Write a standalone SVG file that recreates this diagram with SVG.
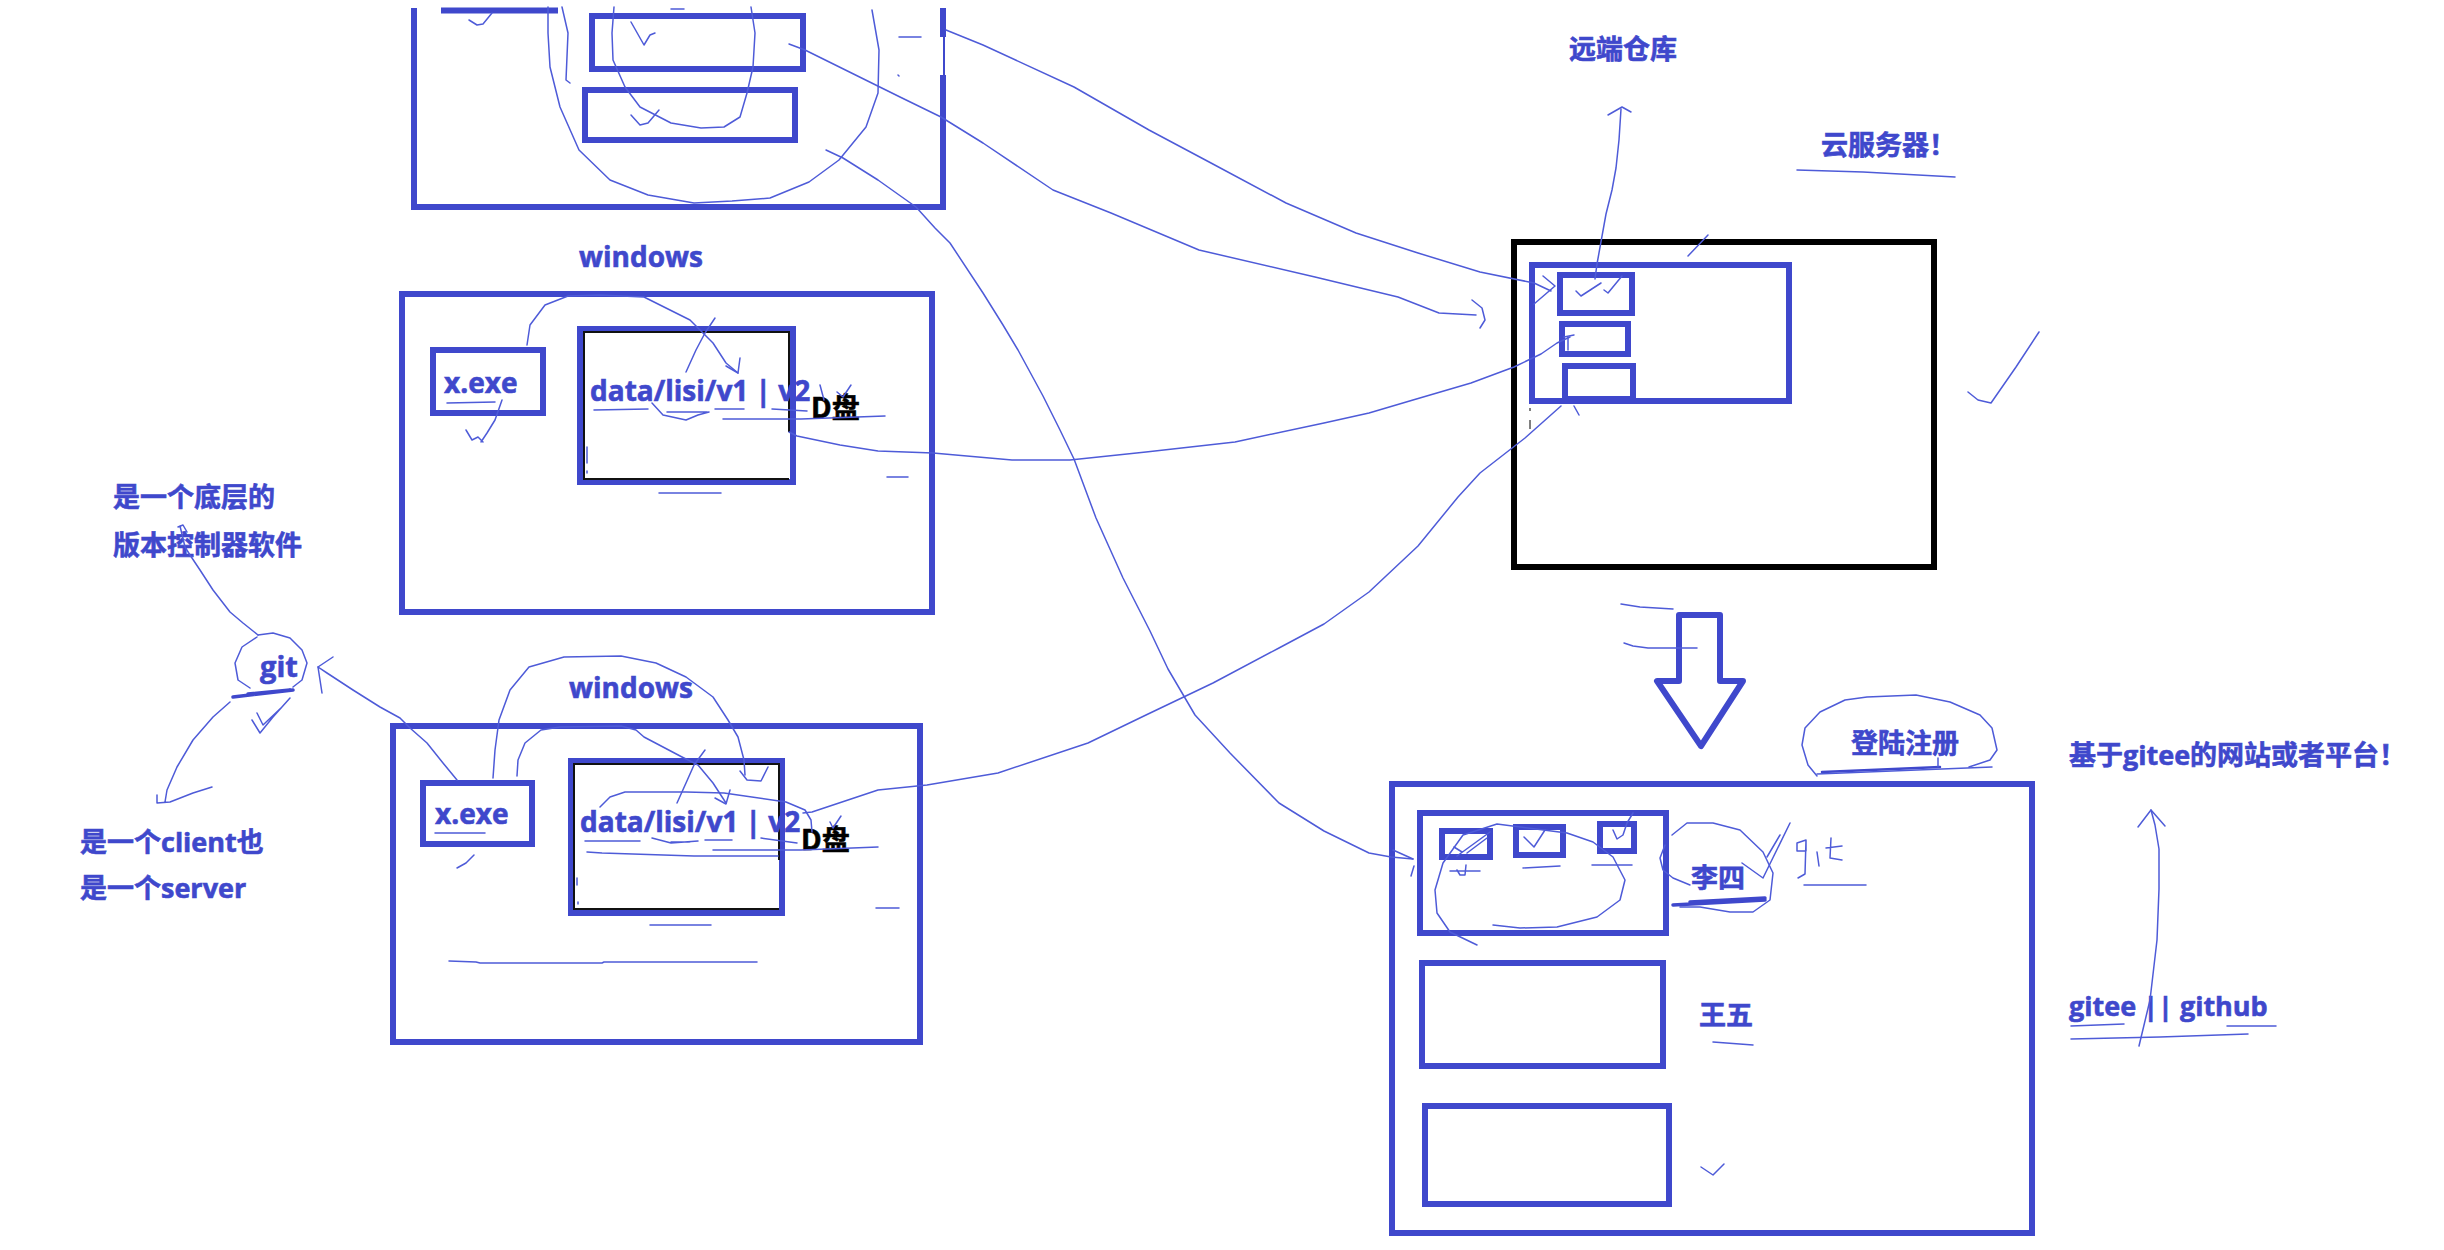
<svg xmlns="http://www.w3.org/2000/svg" width="2444" height="1250" viewBox="0 0 2444 1250">
<style>
.box{fill:none;stroke:#3F48CC;stroke-width:6}
.bk{fill:none;stroke:#000;stroke-width:6}
.thin{fill:none;stroke:#111;stroke-width:2}
.ink{fill:none;stroke:#4E5BD8;stroke-width:1.5;stroke-linecap:round;stroke-linejoin:round}
.inkb{fill:none;stroke:#3F48CC;stroke-width:3.5;stroke-linecap:round;stroke-linejoin:round}
.t{font-family:"Open Sans","Noto Sans CJK SC",sans-serif;font-weight:700;font-size:27px;fill:#3F48CC;stroke:#3F48CC;stroke-width:0.6}
.t28{font-size:28px}
.d{fill:#000;stroke:#000}
</style>
<rect width="2444" height="1250" fill="#fff"/>

<g id="top-box">
<path class="box" d="M414,8 V207 H943 V75"/>
<path class="box" d="M943,8 V37"/>
<path d="M944,37 V75" stroke="#3F48CC" stroke-width="2"/>
<path class="box" d="M441,10.5 H558"/>
<rect class="box" x="592" y="16" width="211" height="53"/>
<rect class="box" x="585" y="90" width="210" height="50"/>
</g>

<g id="windows-1">
<text class="t t28" x="579" y="267">windows</text>
<rect class="box" x="402" y="294" width="530" height="318"/>
<g id="windows-1-exe">
<rect class="box" x="433" y="350" width="110" height="63"/>
<text class="t t28" x="444" y="393">x.exe</text>
</g>
<g id="windows-1-data">
<rect class="box" x="580" y="329" width="213" height="153"/>
<path class="thin" d="M789,432 V332 H584 V479 H789"/>
<text class="t t28" x="590" y="401">data/lisi/v1 | v2</text>
<text class="t t28 d" x="811" y="418">D盘</text>
</g>
</g>

<g id="windows-2">
<text class="t t28" x="569" y="698">windows</text>
<rect class="box" x="393" y="726" width="527" height="316"/>
<g id="windows-2-exe">
<rect class="box" x="423" y="783" width="109" height="61"/>
<text class="t t28" x="435" y="824">x.exe</text>
</g>
<g id="windows-2-data">
<rect class="box" x="571" y="761" width="211" height="152"/>
<path class="thin" d="M779,860 V764 H574 V909 H779"/>
<text class="t t28" x="580" y="832">data/lisi/v1 | v2</text>
<text class="t t28 d" x="801" y="850">D盘</text>
</g>
</g>

<g id="git">
<text class="t" x="113" y="507">是一个底层的</text>
<text class="t" x="113" y="555">版本控制器软件</text>
<text class="t" x="260" y="677" style="font-size:29px">git</text>
<text class="t" x="80" y="852">是一个client也</text>
<text class="t" x="80" y="898">是一个server</text>
</g>

<g id="cloud-server">
<text class="t" x="1569" y="59">远端仓库</text>
<text class="t" x="1821" y="155">云服务器！</text>
<rect class="bk" x="1514" y="242" width="420" height="325"/>
<rect class="box" x="1532" y="265" width="257" height="136"/>
<rect class="box" x="1560" y="275" width="72" height="38"/>
<rect class="box" x="1562" y="324" width="66" height="30"/>
<rect class="box" x="1565" y="366" width="68" height="33"/>
</g>

<g id="down-arrow">
<path class="box" stroke-linejoin="round" d="M1679,615 H1720 V681 H1743 L1701,746 L1657,681 H1679 Z"/>
</g>

<g id="gitee-site">
<text class="t" x="1851" y="753">登陆注册</text>
<rect class="box" x="1392" y="784" width="640" height="449"/>
<rect class="box" x="1420" y="813" width="246" height="120"/>
<rect class="box" x="1442" y="831" width="48" height="26"/>
<rect class="box" x="1516" y="827" width="47" height="28"/>
<rect class="box" x="1600" y="824" width="34" height="27"/>
<text class="t" x="1691" y="888">李四</text>
<rect class="box" x="1422" y="963" width="241" height="103"/>
<text class="t" x="1699" y="1025">王五</text>
<rect class="box" x="1425" y="1106" width="244" height="98"/>
</g>

<g id="platform">
<text class="t" x="2069" y="765">基于gitee的网站或者平台！</text>
<text class="t" x="2069" y="1016">gitee || github</text>
</g>

<g id="connectors">
<path class="ink" d="M946,30 L983,45 L1074,87 L1149,130 L1211,163 L1286,203 L1356,233 L1418,253 L1480,272 L1534,283 L1551,291"/>
<path class="ink" d="M1543,276 L1555,286 L1534,304"/>
<path class="ink" d="M789,44 L805,50 L900,97 L941,117 L983,143 L1053,190 L1111,213 L1199,250 L1315,277 L1398,297 L1439,313 L1476,315"/>
<path class="ink" d="M1472,300 L1482,308 L1485,320 L1480,328"/>
<path class="ink" d="M826,150 L843,158 L878,180 L916,207 L935,228 L950,243 L983,293 L1003,325 L1018,350 L1043,396 L1060,430 L1074,459 L1096,518 L1123,578 L1150,631 L1168,669 L1195,715 L1230,753 L1279,803 L1324,831 L1369,853 L1391,857 L1413,859"/>
<path class="ink" d="M1393,850 L1413,859 M1411,876 L1414,866"/>
<path class="ink" d="M789,432 L797,436 L840,445 L878,451 L933,453 L1012,460 L1070,460 L1146,452 L1235,442 L1324,423 L1369,413 L1413,400 L1471,383 L1514,367 L1541,354 L1557,343 L1570,337"/>
<path class="ink" d="M1564,337 L1574,335 M1568,337 L1568,350"/>
<path class="ink" d="M803,813 L812,812 L878,790 L927,785 L998,773 L1088,743 L1146,715 L1213,683 L1279,648 L1324,624 L1369,592 L1418,546 L1458,497 L1480,473 L1525,438 L1561,406"/>
<path class="ink" d="M1574,406 L1579,415"/>
<path class="ink" d="M457,780 L443,763 L427,743 L410,728 L400,718 L380,707 L353,690 L327,673 L318,667"/>
<path class="ink" d="M333,657 L318,667 L322,693"/>
<path class="ink" d="M1595,279 L1597,264 L1606,214 L1612,190 L1616,168 L1619,140 L1621,109"/>
<path class="ink" d="M1608,115 L1622,107 L1631,112"/>
<path class="ink" d="M2139,1046 L2150,1000 L2157,940 L2159,889 L2159,849 L2155,825 L2151,810"/>
<path class="ink" d="M2138,827 L2151,810 L2165,826"/>
</g>

<g id="annotations">
<path class="ink" d="M548,7 L548,33 L550,67 L560,107 L579,150 L610,180 L648,195 L694,203 L732,201 L770,198 L809,182 L839,160 L866,127 L878,93 L879,50 L872,10"/>
<path class="ink" d="M562,7 L568,33 L566,80 L570,83"/>
<path class="ink" d="M614,7 L612,33 L613,60 L625,87 L640,107 L671,123 L701,128 L724,127 L740,117 L747,93 L753,67 L755,33 L751,7"/>
<path class="ink" d="M631,22 L644,45 L650,35 L655,33 M631,115 L640,125 L648,123 L659,110"/>
<path class="ink" d="M671,9 L684,9 M899,37 L921,37 M898,75 L899,76"/>
<path class="ink" d="M469,20 L477,25 L483,24 L492,13"/>

<path class="ink" d="M527,345 L530,325 L545,305 L568,296 L600,295 L644,297 L660,305 L690,320 L713,343 L726,363 L738,373"/>
<path class="ink" d="M726,366 L738,373 L740,358"/>
<path class="ink" d="M686,372 L696,350 L705,333 L715,318"/>
<path class="ink" d="M447,403 L495,402"/>
<path class="ink" d="M502,400 L495,420 L487,433 L481,442 M466,430 L472,440 L478,437 L483,442"/>
<path class="ink" d="M594,410 L648,409 M652,403 L663,415 L686,420 L698,415 L709,412 M667,412 L707,412 M715,409 L744,409 M772,409 L807,411"/>
<path class="ink" d="M723,419 L801,419 L885,416"/>
<path class="ink" d="M820,385 L824,400 M837,392 L843,397 L851,385"/>
<path class="ink" d="M887,477 L908,477 M659,493 L721,493 M587,447 L587,463 M587,471 L587,473"/>

<path class="ink" d="M493,778 L495,750 L499,720 L510,690 L529,667 L564,657 L621,656 L656,663 L686,677 L713,697 L728,720 L738,737 L744,760 L745,775"/>
<path class="ink" d="M740,771 L747,780 L761,781 L768,767"/>
<path class="ink" d="M517,776 L518,760 L525,743 L541,730 L560,727 L621,726 L636,730 L644,737 L682,757 L698,765 L713,783 L726,803"/>
<path class="ink" d="M715,798 L726,804 L730,790"/>
<path class="ink" d="M677,803 L686,783 L694,765 L705,750"/>
<path class="ink" d="M435,833 L485,833 M474,855 L466,863 L457,868"/>
<path class="ink" d="M600,807 L610,797 L625,792 L686,792 L724,793 L786,802 L805,810 L811,820 L812,832 M587,852 L602,853 L694,856 L778,856"/>
<path class="ink" d="M585,841 L640,841 M652,838 L671,843 L698,841 M671,842 L690,842 M705,840 L732,840 M761,838 L797,843"/>
<path class="ink" d="M713,850 L801,850 L878,847"/>
<path class="ink" d="M830,822 L833,828 L841,816"/>
<path class="ink" d="M876,908 L899,908 M650,925 L711,925 M449,961 L476,962 L480,963 L602,963 L604,962 L757,962 M577,878 L577,885 M578,902 L578,904"/>

<path class="ink" d="M258,635 L273,633 L290,638 L302,650 L307,663 L302,680 L293,687 M257,637 L242,647 L235,663 L238,680 L250,688"/>
<path class="inkb" d="M233,697 L293,690 M248,694 L290,690"/>
<path class="ink" d="M258,635 L243,623 L230,612 L213,590 L200,570 L190,555 L185,547 L180,526 M178,527 L183,525 L187,532"/>
<path class="ink" d="M230,702 L213,717 L193,740 L177,767 L167,790 L165,802 M157,795 L157,803 L170,802 L193,793 L212,787"/>
<path class="ink" d="M252,720 L260,733 L273,717 L290,698 M257,713 L263,725 L282,707"/>

<path class="ink" d="M1576,291 L1581,296 L1601,283 M1604,290 L1608,293 L1622,276"/>
<path class="ink" d="M1797,170 L1863,172 L1955,177"/>
<path class="ink" d="M1688,256 L1708,235"/>
<path class="ink" d="M1968,392 L1978,400 L1991,403 L2016,367 L2039,332"/>
<path d="M1530,408 V411 M1530,420 V429" stroke="#000" stroke-width="1"/>
<path class="ink" d="M1621,604 L1640,607 L1673,609 M1624,643 L1633,646 L1648,648 L1697,648"/>

<path class="ink" d="M1817,776 L1808,765 L1802,745 L1805,728 L1820,712 L1845,700 L1867,697 L1916,695 L1950,702 L1980,715 L1992,728 L1997,750 L1990,760 L1969,767"/>
<path class="inkb" d="M1822,772 L1870,770 L1940,767" style="stroke-width:2.5"/>
<path class="ink" d="M1817,774 L1992,767 M1938,758 L1938,767"/>

<path class="ink" d="M1672,835 L1687,823 L1713,823 L1740,830 L1763,852 L1773,873 L1770,900 L1753,912 L1730,912 L1700,907 L1680,907 M1665,845 L1660,858 L1663,870 L1673,878 L1690,885"/>
<path class="inkb" d="M1673,905 L1765,900 M1690,902 L1765,898"/>
<path class="ink" d="M1742,863 L1763,878 L1790,823 M1767,857 L1780,835"/>
<path class="ink" d="M1497,824 L1567,833 L1593,842 L1613,857 L1625,880 L1620,900 L1597,917 L1557,927 L1520,928 L1493,925 M1497,824 L1463,835 L1443,863 L1435,890 L1437,913 L1450,932 L1477,945"/>
<path class="ink" d="M1457,856 L1490,832 M1467,853 L1487,838 M1454,847 L1462,852"/>
<path class="ink" d="M1524,837 L1534,847 L1545,830 M1613,830 L1617,839 L1623,835 L1627,823 L1633,813"/>
<path class="ink" d="M1450,871 L1480,871 M1457,870 L1460,875 L1465,875 L1466,865 M1523,868 L1560,866 M1592,865 L1632,865"/>
<path class="ink" d="M1797,843 L1806,840 L1806,851 L1797,851 Z M1806,840 L1805,874 L1798,878 M1817,852 L1819,866 M1826,848 L1842,846 M1831,838 L1830,858 L1842,860"/>
<path class="ink" d="M1804,885 L1866,885"/>
<path class="ink" d="M1713,1042 L1753,1045 M1701,1167 L1713,1175 L1724,1164"/>
<path class="ink" d="M2071,1026 L2124,1024 M2227,1026 L2276,1026 M2071,1039 L2160,1037 L2248,1034"/>
</g>
</svg>
